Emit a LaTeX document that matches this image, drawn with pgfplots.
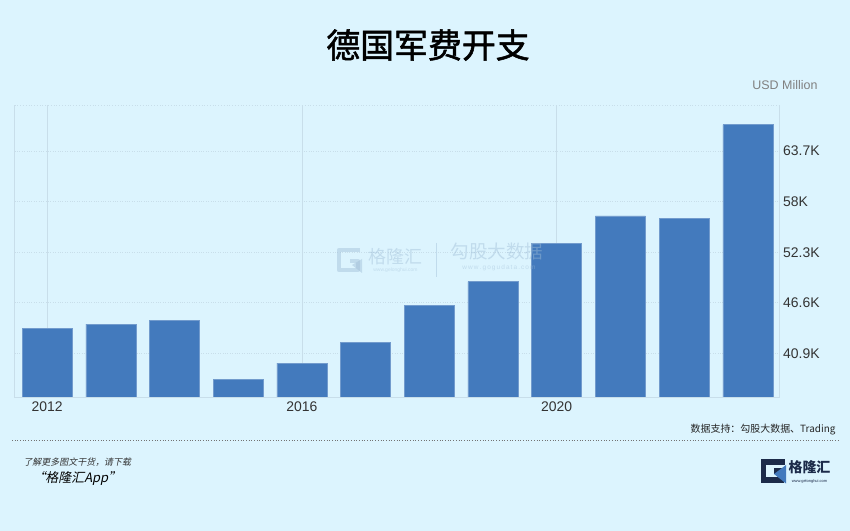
\documentclass[border=0pt]{standalone}
\usepackage{pgfplots}
\pgfplotsset{compat=1.18}
\usepackage{fontspec}
\setmainfont{Liberation Sans}
\newfontfamily\cjk{Noto Sans CJK SC}
\newfontfamily\cjkt{Noto Sans CJK SC}[FakeBold=1.5]
\newfontfamily\cjki{Noto Sans CJK SC}[FakeSlant=0.2]
\definecolor{bg}{RGB}{220,244,254}
\definecolor{barblue}{RGB}{67,122,189}
\definecolor{gridc}{RGB}{200,222,234}
\definecolor{navy}{RGB}{28,43,74}
\definecolor{wm}{RGB}{160,190,215}
\begin{document}
\begin{tikzpicture}
\fill[bg] (0bp,0bp) rectangle (850bp,531bp);
% title
\node[font=\cjkt\fontsize{34}{34}\selectfont, text=black] at (428bp,486bp) {德国军费开支};
\node[font=\fontsize{12.5}{12.5}\selectfont, text=black!50, anchor=east] at (821bp,446bp) {USD Million};
\begin{axis}[
  at={(14.6bp,133.3bp)}, anchor=south west,
  width=764.4bp, height=292.7bp, scale only axis,
  xmin=-0.51, xmax=11.49, ymin=35.9, ymax=68.9,
  axis line style={draw=none},
  xtick={0,4,8}, xticklabels={2012,2016,2020},
  ytick={40.9,46.6,52.3,58,63.7},
  yticklabels={40.9K,46.6K,52.3K,58K,63.7K},
  yticklabel pos=right,
  major tick length=0pt,
  xticklabel style={font=\fontsize{14}{14}\selectfont, text=black!80, anchor=north, inner sep=0pt, yshift=-4bp},
  yticklabel style={font=\fontsize{14}{14}\selectfont, text=black!80, anchor=west, inner sep=0pt, xshift=4bp},
  xmajorgrids, ymajorgrids,
  x grid style={gridc, line width=0.6pt},
  y grid style={gridc, dotted, line width=0.8pt},
  ybar, bar width=0.785,
  clip=false,
]
\draw[gridc, line width=0.6pt] (rel axis cs:0,0) -- (rel axis cs:0,1);
\draw[gridc, dotted, line width=0.8pt] (rel axis cs:0,1) -- (rel axis cs:1,1);
\draw[gridc, line width=0.8pt] (rel axis cs:1,0) -- (rel axis cs:1,1);
\addplot[fill=barblue, draw=barblue!75!white, line width=0.5pt] coordinates {
 (0,43.7) (1,44.2) (2,44.6) (3,38.0) (4,39.8) (5,42.1)
 (6,46.3) (7,49.0) (8,53.3) (9,56.4) (10,56.1) (11,66.7)};
\draw[gridc, line width=0.8pt] (rel axis cs:0,0) -- (rel axis cs:1,0);
\end{axis}
\begin{scope}[x=1bp,y=1bp]
% watermark
\begin{scope}[opacity=0.45]
\draw[wm, line width=4.5bp, line join=round] (360,281) -- (339,281) -- (339,261) -- (358,261) -- (358,270) -- (350,270);
\fill[wm] (352,266) -- (362,258) -- (362,272) -- cycle;
\node[font=\cjk\fontsize{18}{18}\selectfont, text=wm] at (395.5,274.3) {格隆汇};
\node[font=\fontsize{5}{5}\selectfont, text=wm] at (395.5,260.3) {www.gelonghui.com};
\draw[wm, line width=0.8pt] (436.7,288) -- (436.7,254);
\node[font=\cjk\fontsize{18.6}{18.6}\selectfont, text=wm] at (497,279.5) {勾股大数据};
\node[font=\fontsize{6.5}{6.5}\selectfont, text=wm] at (499,263.3) {w\,w\,w\,.\,g\,o\,g\,u\,d\,a\,t\,a\,.\,c\,o\,m};
\end{scope}
% source
\node[font=\cjk\fontsize{10}{10}\selectfont, anchor=east, text=black!85] at (839,101) {数据支持：勾股大数据、Trading};
\draw[black!55, dotted, line width=0.7pt] (12,91) -- (838,91);
\node[font=\cjki\fontsize{9}{9}\selectfont, anchor=west, text=black!80] at (20,69.3) {了解更多图文干货，请下载};
\node[font=\cjki\fontsize{13}{13}\selectfont, anchor=west, text=black] at (29,52.7) {“格隆汇App”};
% logo
\draw[navy, line width=5.5bp, line join=miter] (785,69) -- (763.5,69) -- (763.5,51) -- (781.5,51) -- (781.5,60) -- (774,60);
\fill[barblue] (774,57) -- (786,47.5) -- (786,66) -- cycle;
\node[font=\cjk\bfseries\fontsize{14}{14}\selectfont, text=navy] at (809.5,64) {格隆汇};
\node[font=\fontsize{4}{4}\selectfont, text=navy] at (809.5,50) {www.gelonghui.com};
\end{scope}
\pgfresetboundingbox
\path[use as bounding box] (0bp,0bp) rectangle (850bp,531bp);
\end{tikzpicture}
\end{document}
